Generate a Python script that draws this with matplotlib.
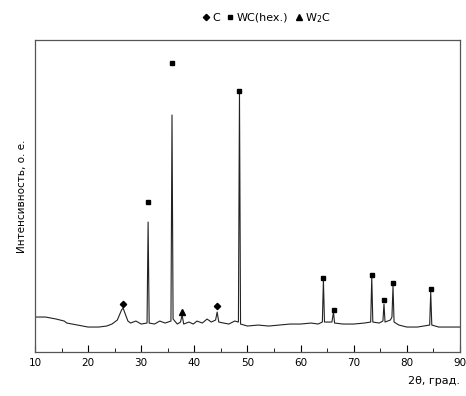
import matplotlib
matplotlib.use('Agg')
import matplotlib.pyplot as plt
from matplotlib.lines import Line2D
from matplotlib.ticker import MultipleLocator

# дифрактограмма, точки (2theta, интенсивность)
two_theta = [10, 12, 14, 15.5, 16, 18, 20, 22, 23.5, 24.5, 25.5, 26.3, 26.6, 27.0, 27.5,
             28, 29, 30, 31.1, 31.3, 31.5, 32.5, 33.5, 34.5, 35.6, 35.8, 36.0, 36.8,
             37.4, 37.7, 38.0, 39, 39.8, 40.5, 41.5, 42.4, 43.2, 44.0, 44.3, 44.6,
             45.5, 46.5, 47.6, 48.3, 48.5, 48.7, 50, 52, 54, 56, 58, 60, 62, 63.3,
             64.1, 64.3, 64.5, 65.9, 66.2, 66.4, 68, 70, 72, 73.2, 73.4, 73.6, 74.8,
             75.5, 75.7, 75.9, 76.9, 77.2, 77.4, 77.6, 78.5, 80, 82, 84.3, 84.5, 84.7,
             86, 88, 90]
intensity = [35, 35, 33, 31, 29, 27, 25, 25, 26, 28, 32, 42, 44, 38, 31,
             29, 31, 28, 29, 130, 29, 28, 31, 29, 31, 237, 33, 28,
             30, 37, 28, 30, 28, 31, 29, 33, 30, 32, 40, 30,
             29, 28, 31, 30, 260, 28, 26, 27, 26, 27, 28, 28, 29, 28,
             30, 72, 30, 30, 40, 29, 28, 28, 29, 30, 75, 30, 29,
             31, 48, 30, 32, 35, 66, 30, 27, 25, 25, 27, 60, 27,
             25, 25, 25]

# метки фаз
c_x = [26.6, 44.3]
c_y = [48, 46]
wc_x = [31.3, 35.8, 48.5, 64.3, 66.2, 73.4, 75.7, 77.4, 84.5]
wc_y = [150, 289, 261, 74, 42, 77, 52, 69, 63]
w2c_x = [37.7]
w2c_y = [40]

fig = plt.figure(figsize=(4.66, 3.96), dpi=100)
ax = fig.add_axes([0.075, 0.111, 0.912, 0.788])

ax.plot(two_theta, intensity, color='#222222', lw=0.8)
ax.plot(c_x, c_y, 'D', color='black', ms=3.2, ls='none')
ax.plot(wc_x, wc_y, 's', color='black', ms=3.5, ls='none')
ax.plot(w2c_x, w2c_y, '^', color='black', ms=4, ls='none')

ax.set_xlim(10, 90)
ax.set_ylim(0, 312)
ax.xaxis.set_major_locator(MultipleLocator(10))
ax.xaxis.set_minor_locator(MultipleLocator(5))
ax.tick_params(axis='x', which='major', direction='in', length=5, labelsize=7.5, pad=4)
ax.tick_params(axis='x', which='minor', direction='in', length=3)
ax.set_yticks([])
for s in ax.spines.values():
    s.set_color('#555555')
    s.set_linewidth(0.9)

ax.set_ylabel('Интенсивность, о. е.', fontsize=7.5, labelpad=6)
ax.set_xlabel('2θ, град.', fontsize=8, loc='right', labelpad=6)

handles = [Line2D([], [], marker='D', color='black', ls='none', ms=3.2),
           Line2D([], [], marker='s', color='black', ls='none', ms=3.5),
           Line2D([], [], marker='^', color='black', ls='none', ms=4)]
fig.legend(handles, ['C', 'WC(hex.)', 'W$_2$C'], loc='center', ncol=3,
           bbox_to_anchor=(0.57, 0.955), frameon=False, fontsize=8,
           handletextpad=0.1, columnspacing=0.4, handlelength=1.0)

plt.savefig('out.png', dpi=100)
plt.close()
